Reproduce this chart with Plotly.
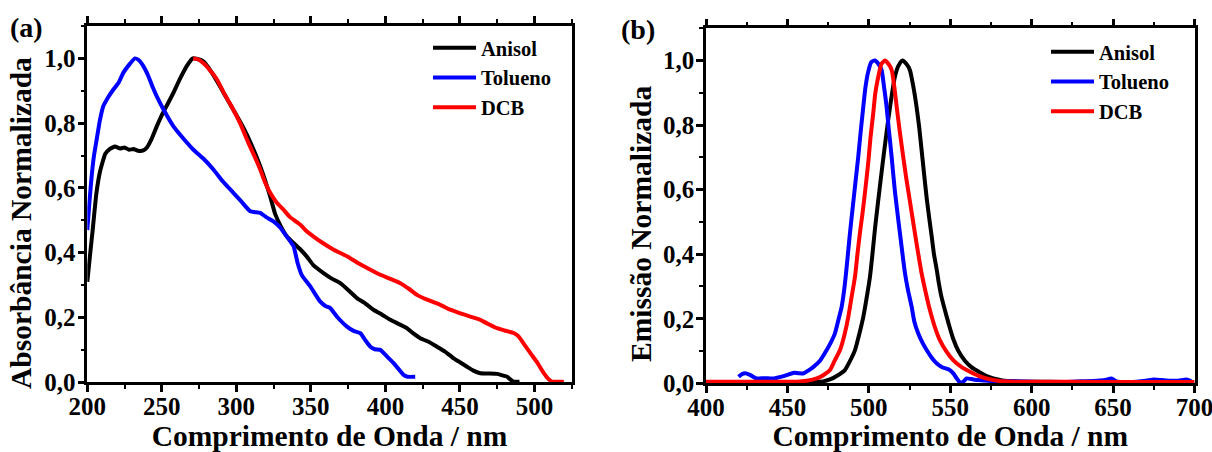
import plotly.graph_objects as go

# ---- (a) absorption spectra ----
abs_anisol_wl = [200, 202, 203.6, 206, 208.5, 212, 215, 218.6, 222, 225, 228, 231, 234, 237.6, 240, 243,
                 246.6, 250, 254, 257.8, 262, 266.7, 270.8, 274, 278, 283, 289, 295, 300, 304.8, 310, 316,
                 322.7, 326, 330, 334, 338.4, 343, 347.3, 352, 358.5, 364, 369.7, 375, 380.9, 386, 392, 398,
                 403.3, 409, 414.5, 419, 423.4, 429, 434.6, 440, 445.8, 450, 454.8, 459, 463.7, 469, 474.9,
                 478, 481.7, 484, 486, 490]
abs_anisol = [0.31, 0.40, 0.47, 0.58, 0.65, 0.705, 0.72, 0.728, 0.722, 0.725, 0.718, 0.72, 0.715, 0.716,
              0.725, 0.75, 0.79, 0.825, 0.86, 0.894, 0.935, 0.976, 1.0, 0.998, 0.99, 0.96, 0.914, 0.865,
              0.825, 0.785, 0.735, 0.667, 0.574, 0.52, 0.48, 0.45, 0.43, 0.41, 0.388, 0.36, 0.337, 0.32, 0.306,
              0.285, 0.26, 0.245, 0.224, 0.208, 0.193, 0.18, 0.167, 0.15, 0.136, 0.125, 0.110, 0.095, 0.074,
              0.062, 0.048, 0.036, 0.028, 0.027, 0.026, 0.022, 0.017, 0.008, 0.002, 0.002]

abs_tolueno_wl = [200, 201.5, 203, 204.5, 206.3, 208.5, 210.7, 214, 217.5, 221, 224.2, 228, 232, 234.5,
                  237.6, 241, 244, 246.6, 252, 257.8, 264, 271.2, 278, 284.6, 291, 298, 303, 309.3, 316, 320,
                  324.9, 329.4, 333, 338.4, 341, 344, 349.6, 356.3, 360, 363, 368, 374.2, 379, 383.2, 386.5,
                  389.9, 393, 396.6, 401, 405.5, 409, 412.2, 415, 420]
abs_tolueno = [0.47, 0.56, 0.64, 0.70, 0.75, 0.81, 0.852, 0.88, 0.904, 0.925, 0.956, 0.98, 1.0, 0.995,
               0.976, 0.945, 0.91, 0.883, 0.835, 0.79, 0.755, 0.718, 0.69, 0.657, 0.62, 0.585, 0.56, 0.528,
               0.523, 0.51, 0.497, 0.478, 0.455, 0.42, 0.37, 0.33, 0.296, 0.249, 0.235, 0.229, 0.2, 0.172,
               0.158, 0.152, 0.13, 0.110, 0.102, 0.1, 0.08, 0.059, 0.04, 0.023, 0.017, 0.017]

abs_dcb_wl = [271, 274, 278, 282, 287, 292, 297, 302.5, 308, 312, 316, 319, 322.7, 327, 331.6, 336, 342.8,
              347, 351.8, 358, 365, 374.2, 381, 389, 396.6, 403, 410, 416, 421.2, 428, 436.9, 443, 450.3,
              457, 463.7, 469, 474.9, 480, 486.1, 489.5, 493, 497.3, 502, 506.3, 509, 511.9, 519.7]
abs_dcb = [1.0, 0.998, 0.985, 0.965, 0.935, 0.89, 0.85, 0.80, 0.74, 0.70, 0.657, 0.62, 0.585, 0.555, 0.533,
           0.51, 0.487, 0.467, 0.45, 0.43, 0.41, 0.389, 0.37, 0.35, 0.332, 0.32, 0.306, 0.288, 0.27, 0.255,
           0.239, 0.225, 0.213, 0.203, 0.193, 0.18, 0.167, 0.16, 0.152, 0.141, 0.118, 0.09, 0.06, 0.028,
           0.012, 0.002, 0.002]

# ---- (b) emission spectra ----
em_anisol_wl = [400, 420, 440, 460, 467, 472, 476.1, 480, 485.3, 488, 491.5, 494, 496.6, 498.5, 500.7, 502.2,
                503.8, 505.8, 508.5, 510.2, 511.9, 514, 516, 518.3, 520.7, 523, 525.2, 527.3, 529.3, 531,
                532.4, 534, 535.5, 537, 538.6, 540, 541.6, 543, 544.5, 546.7, 549, 551.8, 555, 559, 563, 568,
                572, 576.4, 582, 590, 600, 620, 650, 680, 700]
em_anisol = [0.003, 0.003, 0.003, 0.004, 0.004, 0.006, 0.012, 0.022, 0.041, 0.065, 0.103, 0.15, 0.206, 0.26,
             0.33, 0.40, 0.48, 0.568, 0.682, 0.75, 0.816, 0.89, 0.95, 0.985, 1.0, 0.99, 0.971, 0.92, 0.857,
             0.79, 0.723, 0.645, 0.575, 0.515, 0.455, 0.40, 0.355, 0.31, 0.27, 0.227, 0.185, 0.138, 0.1,
             0.07, 0.05, 0.034, 0.023, 0.015, 0.009, 0.006, 0.005, 0.004, 0.003, 0.003, 0.003]

em_tolueno_wl = [420, 422, 424, 427, 431, 436, 441, 446, 450, 454, 457, 460, 463, 466, 470, 474.1, 477, 479.2,
                 481.5, 483.3, 485, 486.4, 488.4, 490, 491.5, 493.5, 495, 496.6, 498, 499.6, 501.5, 503.7,
                 505.8, 507.8, 509.3, 510.9, 512.4, 514, 516, 519.1, 522.2, 524, 526.3, 528, 530.3, 533,
                 535.5, 538.5, 541.6, 545, 549.8, 552, 554, 556, 558, 560, 563, 567, 575, 590, 600, 620, 630,
                 640, 645, 649, 652, 660, 670, 675, 680, 685, 690, 695, 698]
em_tolueno = [0.02, 0.028, 0.031, 0.026, 0.015, 0.016, 0.015, 0.02, 0.026, 0.033, 0.031, 0.031, 0.04, 0.051,
              0.07, 0.103, 0.13, 0.155, 0.2, 0.237, 0.295, 0.361, 0.465, 0.54, 0.61, 0.702, 0.78, 0.857, 0.92,
              0.965, 0.995, 1.0, 0.99, 0.971, 0.92, 0.857, 0.78, 0.702, 0.595, 0.465, 0.341, 0.29, 0.237,
              0.19, 0.155, 0.125, 0.103, 0.08, 0.062, 0.05, 0.041, 0.03, 0.015, 0.003, 0.005, 0.015, 0.013,
              0.01, 0.007, 0.006, 0.005, 0.004, 0.006, 0.008, 0.01, 0.015, 0.006, 0.004, 0.008, 0.012, 0.01,
              0.008, 0.008, 0.012, 0.006]

em_dcb_wl = [400, 420, 440, 455.7, 462, 468, 472, 476.1, 479, 482.3, 485, 487.4, 489.5, 491.5, 493, 494.5,
             496.2, 497.6, 499.6, 501, 502.7, 504, 505.8, 507.8, 509.9, 512, 514, 515.6, 517.1, 519, 521.1,
             523, 525.2, 528.3, 532.4, 535, 537.5, 540.5, 543.6, 547.5, 551.8, 557, 562.1, 567, 572.3,
             580.5, 590, 600, 650, 700]
em_dcb = [0.005, 0.005, 0.005, 0.005, 0.008, 0.015, 0.025, 0.041, 0.07, 0.103, 0.15, 0.206, 0.27, 0.33,
          0.40, 0.465, 0.53, 0.59, 0.682, 0.76, 0.837, 0.9, 0.95, 0.99, 1.0, 0.99, 0.971, 0.92, 0.857,
          0.78, 0.702, 0.635, 0.565, 0.465, 0.341, 0.28, 0.227, 0.175, 0.134, 0.1, 0.072, 0.05, 0.036, 0.024,
          0.015, 0.007, 0.005, 0.005, 0.004, 0.004]

solvents = ["Anisol", "Tolueno", "DCB"]
colors = ["#000000", "#0000FF", "#FF0000"]

FONT = "Liberation Serif"
LINE_W = 4

fig = go.Figure()

abs_sets = [(abs_anisol_wl, abs_anisol), (abs_tolueno_wl, abs_tolueno), (abs_dcb_wl, abs_dcb)]
for name, col, (wl, val) in zip(solvents, colors, abs_sets):
    fig.add_trace(go.Scatter(x=wl, y=val, mode="lines", name=name, legend="legend",
                             line=dict(color=col, width=LINE_W, shape="spline", smoothing=0.4),
                             xaxis="x", yaxis="y"))

em_sets = [(em_anisol_wl, em_anisol), (em_tolueno_wl, em_tolueno), (em_dcb_wl, em_dcb)]
for name, col, (wl, val) in zip(solvents, colors, em_sets):
    fig.add_trace(go.Scatter(x=wl, y=val, mode="lines", name=name, legend="legend2",
                             line=dict(color=col, width=LINE_W, shape="spline", smoothing=0.6),
                             xaxis="x2", yaxis="y2"))

W, H = 1212, 452


def xdom(l, r):
    return [l / W, r / W]


def ydom(bottom_px, top_px):
    return [1 - bottom_px / H, 1 - top_px / H]


def bold(size):
    return dict(family=FONT, size=size, color="black", weight="bold")


tick_font = bold(25)
title_font = bold(29.5)


def x_axis(dom, rng, anchor):
    return dict(domain=dom, range=rng, anchor=anchor, dtick=50, tick0=0,
                showline=True, linecolor="black", linewidth=2.5, mirror="allticks",
                ticks="outside", ticklen=7, tickwidth=2.5, tickcolor="black", ticklabelstandoff=-7,
                ticklabeloverflow="allow",
                minor=dict(dtick=25, ticks="outside", ticklen=4, tickwidth=2, tickcolor="black"),
                showgrid=False, zeroline=False, tickfont=tick_font, automargin=False,
                title=dict(text="Comprimento de Onda / nm", font=title_font, standoff=7))


def y_axis(dom, anchor):
    return dict(domain=dom, range=[0, 1.1], anchor=anchor, dtick=0.2, tick0=0, tickformat=".1f",
                showline=True, linecolor="black", linewidth=2.5, mirror=True,
                ticks="outside", ticklen=7, tickwidth=2.5, tickcolor="black", ticklabelstandoff=-3,
                ticklabeloverflow="allow",
                minor=dict(dtick=0.1, ticks="outside", ticklen=4, tickwidth=2, tickcolor="black"),
                showgrid=False, zeroline=False, tickfont=tick_font, automargin=False)


legend_style = dict(font=bold(20.5), bgcolor="rgba(0,0,0,0)", borderwidth=0, itemwidth=43,
                    xanchor="left", yanchor="top", tracegroupgap=0)


def paper_text(text, x_px, y_px, size, angle=0):
    return dict(text=text, x=x_px / W, y=1 - y_px / H, xref="paper", yref="paper", showarrow=False,
                xanchor="center", yanchor="middle", textangle=angle, font=bold(size))


fig.update_layout(
    width=W, height=H,
    margin=dict(l=0, r=0, t=0, b=0),
    paper_bgcolor="white", plot_bgcolor="white",
    separators=",.",
    font=dict(family=FONT, color="black", weight="bold"),
    xaxis=x_axis(xdom(87.3, 571.7), [200, 525], "y"),
    yaxis=y_axis(ydom(382.3, 26), "x"),
    xaxis2=x_axis(xdom(706, 1194.5), [400, 700], "y2"),
    yaxis2=y_axis(ydom(383.3, 28.3), "x2"),
    legend=dict(x=428 / W, y=1 - 28 / H, **legend_style),
    legend2=dict(x=1046 / W, y=1 - 32 / H, **legend_style),
    annotations=[
        paper_text("(a)", 26, 27, 28),
        paper_text("(b)", 638, 30, 28),
        paper_text("Absorbância Normalizada", 21, 223, 29.5, -90),
        paper_text("Emissão Normalizada", 641, 224, 29.5, -90),
    ],
)

fig.write_html("out.html")
